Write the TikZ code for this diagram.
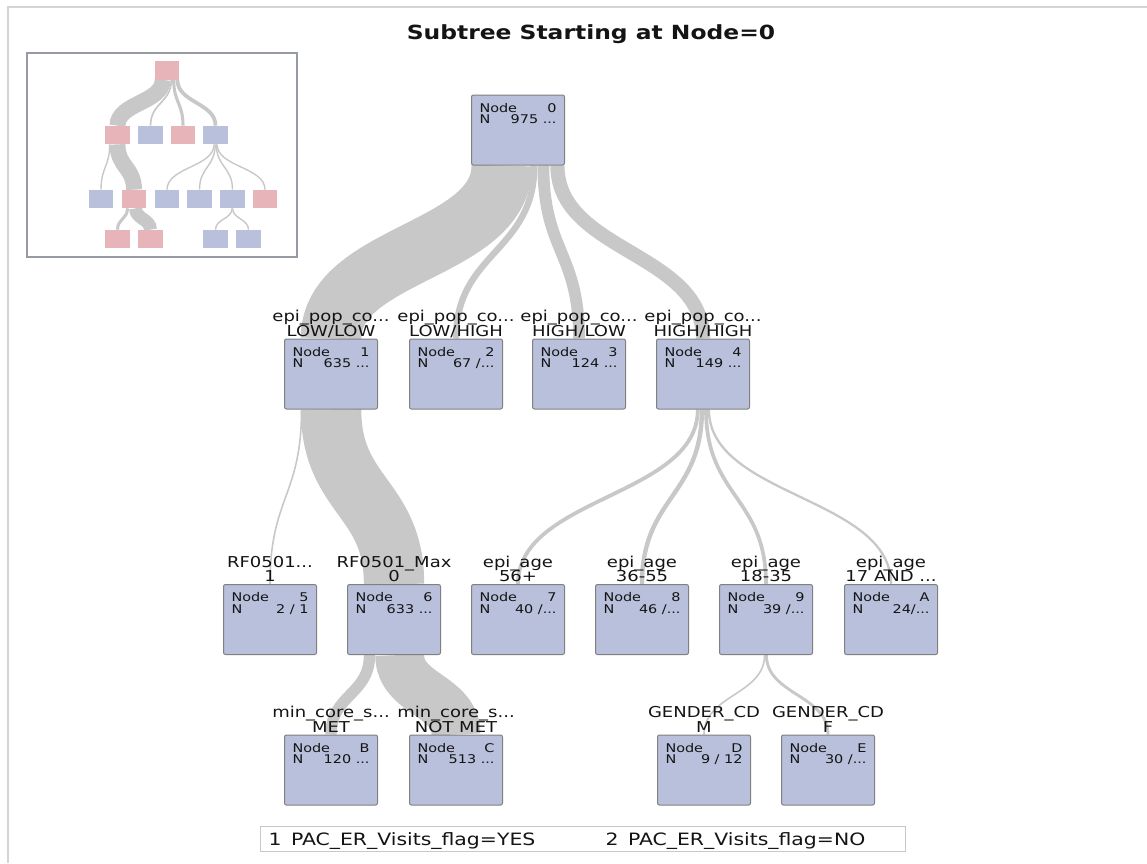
\documentclass[tikz,border=0pt]{standalone}
\usepackage{fontspec}
\setmainfont{DejaVu Sans}[FakeStretch=1.2]
\usetikzlibrary{calc,backgrounds}

\definecolor{boxfill}{RGB}{184,192,220}
\definecolor{boxline}{RGB}{128,128,128}
\definecolor{leafpink}{RGB}{231,180,186}
\definecolor{bandgray}{RGB}{200,200,200}
\definecolor{framegray}{RGB}{212,212,212}
\definecolor{insetline}{RGB}{150,154,162}
\definecolor{legendline}{RGB}{200,200,200}
\definecolor{ink}{RGB}{20,20,20}

\tikzset{
  treebox/.style={draw=boxline, fill=boxfill, line width=1pt, rounded corners=2pt,
    minimum width=93pt, minimum height=70pt, inner sep=0pt, text=ink},
  minibox/.style={fill=#1, minimum width=24.5pt, minimum height=18.3pt, inner sep=0pt},
  varlabel/.style={font=\fontsize{15}{15}\selectfont, inner sep=0pt, anchor=base, text=ink},
  band/.style={draw=bandgray},
}

% text inside a tree box: node id and count
\newcommand\boxtext[2]{\parbox[t][70pt][t]{77pt}{\fontsize{12}{11.5}\selectfont
  \rule{0pt}{17pt}Node\hfill #1\\N\hfill #2}}

% split variable (first line) and its value (second line) above a box
\newcommand\splitlabel[3]{%
  \node[varlabel] (#1-var) at ($(#1.north)+(0,-17)$) {#2};
  \node[varlabel] (#1-val) at ($(#1.north)+(0,-2.5)$) {#3};}

% gray flow band from a parent box to a child box: offset along the parent's base, width
\newcommand\flow[4]{%
  \coordinate (s-#1-#2) at ($(#1.south)+(#3,0)$);
  \coordinate (m-#1-#2) at ($(s-#1-#2)!0.5!(#2.north)$);
  \begin{pgfonlayer}{background}
  \draw[band, line width=#4pt] (s-#1-#2) .. controls (s-#1-#2 |- m-#1-#2)
    and (#2.north |- m-#1-#2) .. (#2.north);
  \end{pgfonlayer}}

\begin{document}
\begin{tikzpicture}[x=1pt, y=-1pt]
\useasboundingbox (0,0) rectangle (1147,863);

% outer frame
\draw[framegray, line width=2pt] (8,863) -- (8,7) -- (1147,7);

% title
\node[font=\bfseries\fontsize{19.5}{20}\selectfont, anchor=base, inner sep=0pt, text=ink]
  (title) at (591,39) {Subtree Starting at Node=0};

% ---------- overview inset ----------
\draw[insetline, line width=1.3pt] (27,53) rectangle (297,257);
\node[minibox=leafpink] (m0) at (167,70.5) {};
\node[minibox=leafpink] (m1) at (117.5,135) {};
\node[minibox=boxfill]  (m2) at (150.5,135) {};
\node[minibox=leafpink] (m3) at (183,135) {};
\node[minibox=boxfill]  (m4) at (215.5,135) {};
\node[minibox=boxfill]  (m5) at (101,199) {};
\node[minibox=leafpink] (m6) at (134,199) {};
\node[minibox=boxfill]  (m7) at (167,199) {};
\node[minibox=boxfill]  (m8) at (199.5,199) {};
\node[minibox=boxfill]  (m9) at (232.5,199) {};
\node[minibox=leafpink] (mA) at (265,199) {};
\node[minibox=leafpink] (mB) at (117.5,239) {};
\node[minibox=leafpink] (mC) at (150.5,239) {};
\node[minibox=boxfill]  (mD) at (215.5,239) {};
\node[minibox=boxfill]  (mE) at (248.5,239) {};

\flow{m0}{m1}{-4.3}{16}
\flow{m0}{m2}{4.3}{1.7}
\flow{m0}{m3}{6.7}{3.1}
\flow{m0}{m4}{10.4}{3.75}
\flow{m1}{m5}{-7.8}{1.4}
\flow{m1}{m6}{0}{15.9}
\flow{m4}{m7}{-1.4}{1.4}
\flow{m4}{m8}{-0.3}{1.4}
\flow{m4}{m9}{0.8}{1.4}
\flow{m4}{mA}{1.6}{1.4}
\flow{m6}{mB}{-6.5}{3}
\flow{m6}{mC}{1.5}{12.9}
\flow{m9}{mD}{-0.4}{1.4}
\flow{m9}{mE}{0.1}{1.4}

% ---------- main tree ----------
\node[treebox] (n0) at (518,130) {\boxtext{0}{975 ...}};

\node[treebox] (n1) at (331,374) {\boxtext{1}{635 ...}};
\node[treebox] (n2) at (456,374) {\boxtext{2}{67 /...}};
\node[treebox] (n3) at (579,374) {\boxtext{3}{124 ...}};
\node[treebox] (n4) at (703,374) {\boxtext{4}{149 ...}};

\node[treebox] (n5) at (270,619.5) {\boxtext{5}{2 / 1}};
\node[treebox] (n6) at (394,619.5) {\boxtext{6}{633 ...}};
\node[treebox] (n7) at (518,619.5) {\boxtext{7}{40 /...}};
\node[treebox] (n8) at (642,619.5) {\boxtext{8}{46 /...}};
\node[treebox] (n9) at (766,619.5) {\boxtext{9}{39 /...}};
\node[treebox] (nA) at (891,619.5) {\boxtext{A}{24/...}};

\node[treebox] (nB) at (331,770) {\boxtext{B}{120 ...}};
\node[treebox] (nC) at (456,770) {\boxtext{C}{513 ...}};
\node[treebox] (nD) at (704,770) {\boxtext{D}{9 / 12}};
\node[treebox] (nE) at (828,770) {\boxtext{E}{30 /...}};

\splitlabel{n1}{epi\_pop\_co...}{LOW/LOW}
\splitlabel{n2}{epi\_pop\_co...}{LOW/HIGH}
\splitlabel{n3}{epi\_pop\_co...}{HIGH/LOW}
\splitlabel{n4}{epi\_pop\_co...}{HIGH/HIGH}
\splitlabel{n5}{RF0501...}{1}
\splitlabel{n6}{RF0501\_Max}{0}
\splitlabel{n7}{epi\_age}{56+}
\splitlabel{n8}{epi\_age}{36-55}
\splitlabel{n9}{epi\_age}{18-35}
\splitlabel{nA}{epi\_age}{17 AND ...}
\splitlabel{nB}{min\_core\_s...}{MET}
\splitlabel{nC}{min\_core\_s...}{NOT MET}
\splitlabel{nD}{GENDER\_CD}{M}
\splitlabel{nE}{GENDER\_CD}{F}

\flow{n0}{n1}{-16.2}{60.6}
\flow{n0}{n2}{16.3}{6.4}
\flow{n0}{n3}{25.4}{11.8}
\flow{n0}{n4}{39.4}{14.2}
\flow{n1}{n5}{-29.5}{1.6}
\flow{n1}{n6}{0.1}{60.4}
\flow{n4}{n7}{-5.2}{3.8}
\flow{n4}{n8}{-1.1}{4.4}
\flow{n4}{n9}{3.0}{3.7}
\flow{n4}{nA}{5.9}{2.3}
\flow{n6}{nB}{-24.5}{11.4}
\flow{n6}{nC}{5.7}{48.9}
\flow{n9}{nD}{-1.4}{1.6}
\flow{n9}{nE}{0.4}{2.9}

% ---------- legend ----------
\node[draw=legendline, line width=1pt, minimum width=645pt, minimum height=25pt, inner sep=0pt]
  (legend) at (582.5,838.5) {};
\node[anchor=base west, inner sep=0pt, font=\fontsize{17}{17}\selectfont, text=ink]
  (leg1) at ($(legend.west)+(9,6.5)$) {1\hspace{0.55em}PAC\_ER\_Visits\_flag=YES};
\node[anchor=base west, inner sep=0pt, font=\fontsize{17}{17}\selectfont, text=ink]
  (leg2) at ($(legend.west)+(346,6.5)$) {2\hspace{0.55em}PAC\_ER\_Visits\_flag=NO};
\end{tikzpicture}
\end{document}
